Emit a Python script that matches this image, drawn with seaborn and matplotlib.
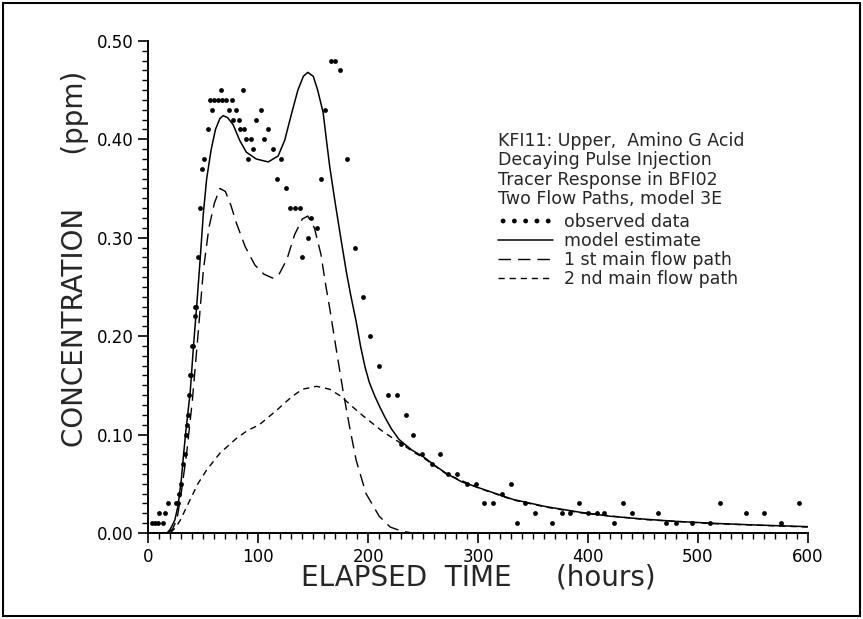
import matplotlib
matplotlib.use("Agg")
import matplotlib.pyplot as plt
from matplotlib.patches import Rectangle
from matplotlib.ticker import MultipleLocator, FormatStrFormatter
import seaborn as sns

# observed tracer concentrations (hours, ppm)
t_obs = [3, 6, 9, 13, 10, 15, 18, 25, 27, 28,
         30, 31, 33, 34, 35, 36, 37, 38, 39, 40,
         41, 42, 42, 43, 45, 47, 49, 51, 54, 56,
         58, 60, 63, 66, 67, 71, 73, 76, 77, 80,
         82, 83, 86, 87, 89, 91, 93, 95, 98, 102,
         105, 109, 113, 117, 121, 125, 129, 133, 138, 140,
         145, 148, 153, 157, 161, 166, 170, 174, 181, 188,
         195, 202, 210, 218, 226, 230, 234, 241, 249, 258,
         265, 273, 281, 290, 298, 305, 314, 322, 330, 335,
         343, 352, 367, 376, 384, 392, 400, 408, 415, 424,
         432, 440, 464, 471, 480, 495, 511, 520, 544, 560,
         576, 592]
c_obs = [0.01, 0.01, 0.01, 0.01, 0.02, 0.02, 0.03, 0.03, 0.03, 0.04,
         0.05, 0.07, 0.08, 0.10, 0.11, 0.12, 0.14, 0.16, 0.16, 0.19,
         0.19, 0.22, 0.23, 0.23, 0.28, 0.33, 0.37, 0.38, 0.41, 0.44,
         0.43, 0.44, 0.44, 0.45, 0.44, 0.44, 0.43, 0.44, 0.42, 0.43,
         0.42, 0.41, 0.45, 0.41, 0.40, 0.38, 0.40, 0.39, 0.42, 0.43,
         0.40, 0.41, 0.39, 0.36, 0.38, 0.35, 0.33, 0.33, 0.33, 0.28,
         0.30, 0.32, 0.31, 0.36, 0.43, 0.48, 0.48, 0.47, 0.38, 0.29,
         0.24, 0.20, 0.17, 0.14, 0.14, 0.09, 0.12, 0.10, 0.08, 0.07,
         0.08, 0.06, 0.06, 0.05, 0.05, 0.03, 0.03, 0.04, 0.05, 0.01,
         0.03, 0.02, 0.01, 0.02, 0.02, 0.03, 0.02, 0.02, 0.02, 0.01,
         0.03, 0.02, 0.02, 0.01, 0.01, 0.01, 0.01, 0.03, 0.02, 0.02,
         0.01, 0.03]

# model estimate (sum of both flow paths)
t_model = [0, 17, 20, 24, 27, 30, 32, 34, 38, 41,
           44, 47, 50, 53, 57, 61, 65, 68, 72, 77,
           83, 89, 98, 109, 118, 124, 130, 136, 141, 145,
           150, 154, 159, 162, 165, 170, 175, 180, 184, 189,
           193, 197, 201, 206, 211, 215, 221, 228, 240, 250,
           260, 271, 285, 302, 332, 362, 393, 420, 453, 480,
           514, 550, 600]
c_model = [0, 0, 0.004, 0.013, 0.028, 0.055, 0.08, 0.103, 0.143, 0.19,
           0.232, 0.277, 0.325, 0.36, 0.389, 0.41, 0.421, 0.424, 0.422, 0.415,
           0.399, 0.387, 0.380, 0.377, 0.383, 0.399, 0.425, 0.450, 0.464, 0.468,
           0.464, 0.450, 0.427, 0.399, 0.372, 0.335, 0.300, 0.266, 0.242, 0.215,
           0.190, 0.169, 0.153, 0.139, 0.127, 0.118, 0.106, 0.095, 0.084, 0.0776,
           0.069, 0.0606, 0.052, 0.0454, 0.034, 0.0267, 0.021, 0.017, 0.0139, 0.0118,
           0.0098, 0.0082, 0.0064]

# 1st main flow path
t_path1 = [18, 22, 26, 30, 35, 40, 45, 50, 55, 60,
           65, 70, 75, 80, 88, 97, 105, 113, 118, 126,
           133, 140, 145, 151, 157, 161, 165, 171, 177, 183,
           189, 198, 210, 220, 230, 240]
c_path1 = [0, 0.004, 0.014, 0.042, 0.083, 0.135, 0.200, 0.267, 0.31, 0.335,
           0.350, 0.347, 0.333, 0.315, 0.291, 0.272, 0.263, 0.259, 0.261, 0.278,
           0.303, 0.319, 0.322, 0.310, 0.283, 0.254, 0.228, 0.186, 0.145, 0.108,
           0.074, 0.040, 0.017, 0.006, 0.002, 0.0]

# 2nd main flow path
t_path2 = [20, 25, 29, 35, 45, 53, 65, 80, 90, 101,
           117, 130, 140, 153, 165, 175, 192, 211, 220, 230,
           240, 250, 271, 302, 332, 362, 393, 453, 514, 600]
c_path2 = [0, 0.006, 0.013, 0.027, 0.05, 0.064, 0.081, 0.096, 0.104, 0.110,
           0.125, 0.138, 0.146, 0.149, 0.146, 0.139, 0.122, 0.105, 0.098, 0.091,
           0.083, 0.0765, 0.060, 0.045, 0.0335, 0.0262, 0.0205, 0.0135, 0.0095, 0.006]

sns.set_style("ticks")
plt.rcParams["font.family"] = ["DejaVu Sans"]

fig = plt.figure(figsize=(8.63, 6.19), dpi=100)
ax = fig.add_axes([0.172, 0.139, 0.764, 0.795])

sns.scatterplot(x=t_obs, y=c_obs, ax=ax, color="k", s=12, linewidth=0,
                label="observed data", clip_on=False, zorder=3)
sns.lineplot(x=t_model, y=c_model, ax=ax, color="k", lw=1.1,
             sort=False, estimator=None, label="model estimate")
sns.lineplot(x=t_path1, y=c_path1, ax=ax, color="k", lw=1.0,
             sort=False, estimator=None, linestyle=(0, (9, 5)),
             label="1 st main flow path")
sns.lineplot(x=t_path2, y=c_path2, ax=ax, color="k", lw=1.0,
             sort=False, estimator=None, linestyle=(0, (4.5, 3.5)),
             label="2 nd main flow path")

ax.set_xlim(0, 600)
ax.set_ylim(0, 0.5)
ax.xaxis.set_major_locator(MultipleLocator(100))
ax.xaxis.set_minor_locator(MultipleLocator(10))
ax.yaxis.set_major_locator(MultipleLocator(0.1))
ax.yaxis.set_minor_locator(MultipleLocator(0.01))
ax.yaxis.set_major_formatter(FormatStrFormatter("%.2f"))
ax.tick_params(which="major", direction="out", length=7, width=1.2, labelsize=12, colors="k")
ax.tick_params(which="minor", direction="out", length=4, width=1.0, colors="k")
sns.despine(ax=ax)
for side in ("left", "bottom"):
    ax.spines[side].set_linewidth(1.4)
    ax.spines[side].set_color("k")

ax.set_xlabel("ELAPSED  TIME     (hours)", fontsize=20)
ax.set_ylabel("CONCENTRATION      (ppm)", fontsize=20)
ax.xaxis.set_label_coords(0.5, -0.063)
ax.yaxis.set_label_coords(-0.09, 0.556)

ax.text(0.53, 0.815,
        "KFI11: Upper,  Amino G Acid\nDecaying Pulse Injection\n"
        "Tracer Response in BFI02\nTwo Flow Paths, model 3E",
        transform=ax.transAxes, ha="left", va="top", fontsize=12.5, linespacing=1.1)

handles, labels = ax.get_legend_handles_labels()
ax.legend(handles, labels, loc="upper left", bbox_to_anchor=(0.53, 0.65),
          frameon=False, fontsize=12.5, borderpad=0, borderaxespad=0,
          handlelength=3.2, handletextpad=0.6, labelspacing=0.05,
          scatterpoints=5, scatteryoffsets=[0.5])

fig.patches.append(Rectangle((0.004, 0.005), 0.992, 0.99, transform=fig.transFigure,
                             fill=False, edgecolor="k", lw=1.5))

fig.savefig("out.png", dpi=100)
